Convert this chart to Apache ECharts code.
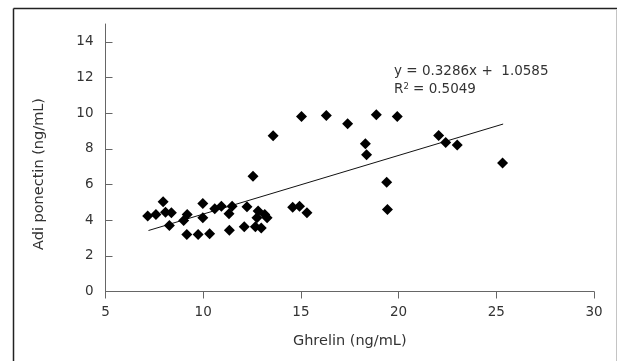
<!DOCTYPE html>
<html>
<head>
<meta charset="utf-8">
<script src="https://cdn.jsdelivr.net/npm/echarts@6/dist/echarts.min.js"></script>
<style>
  html, body { margin: 0; padding: 0; background: #fff; }
  #chart { width: 618px; height: 361px; }
</style>
</head>
<body>
<div id="chart"></div>
<script>
// ghrelin (x) vs adiponectin (y)
const ghrelin = [
  7.16, 7.58, 7.95, 8.07, 8.37, 8.27, 9.0, 9.18, 9.16, 9.74, 9.98, 9.98,
  10.33, 10.59, 10.93, 11.32, 11.48, 11.34, 12.1, 12.24, 12.55, 12.67, 12.81,
  12.75, 12.97, 13.15, 13.27, 13.58, 14.58, 14.93, 15.31, 15.03, 16.3, 17.39,
  18.3, 18.36, 18.86, 19.39, 19.43, 19.93, 22.05, 22.41, 23.0, 25.32
]
const adiponectin = [
  4.23, 4.32, 5.03, 4.45, 4.41, 3.7, 3.98, 4.32, 3.2, 3.2, 4.93, 4.13,
  3.24, 4.64, 4.78, 4.36, 4.78, 3.43, 3.63, 4.75, 6.46, 3.63, 4.51,
  4.13, 3.56, 4.32, 4.13, 8.73, 4.73, 4.78, 4.41, 9.81, 9.87, 9.4,
  8.29, 7.67, 9.91, 6.13, 4.6, 9.81, 8.75, 8.36, 8.21, 7.21
]
// trend line end points
const trendX = [7.2, 25.35]
const trendY = [3.42, 9.39]
const xTicks = [5, 10, 15, 20, 25, 30]
const yTicks = [0, 2, 4, 6, 8, 10, 12, 14]
const equationText = 'y = 0.3286x +  1.0585'
const r2Text = '0.5049'

const font = 'DejaVu Sans'
const chart = echarts.init(document.getElementById('chart'))

const option = {
  animation: false,
  backgroundColor: '#fff',
  grid: { left: 105.5, right: 24, top: 24, bottom: 69.5 },
  xAxis: {
    type: 'value',
    min: xTicks[0],
    max: xTicks[xTicks.length - 1],
    interval: 5,
    name: 'Ghrelin (ng/mL)',
    nameLocation: 'middle',
    nameGap: 42,
    nameTextStyle: { fontFamily: font, fontSize: 14.5, color: '#333' },
    axisLine: { lineStyle: { color: '#666', width: 1 } },
    axisTick: { inside: false, length: 7, lineStyle: { color: '#666' } },
    axisLabel: { margin: 14, fontFamily: font, fontSize: 13.5, color: '#333' },
    splitLine: { show: false },
  },
  yAxis: {
    type: 'value',
    min: 0,
    max: 15,
    axisLine: { show: true, lineStyle: { color: '#666', width: 1 } },
    axisTick: { show: true, inside: true, length: 7, customValues: yTicks, lineStyle: { color: '#666' } },
    axisLabel: { margin: 12, fontFamily: font, fontSize: 13.5, color: '#333', customValues: yTicks },
    splitLine: { show: false },
  },
  graphic: [
    // outer frame
    { type: 'line', shape: { x1: 13.5, y1: 8.5, x2: 617, y2: 8.5 }, style: { stroke: '#222', lineWidth: 1.5 } },
    { type: 'line', shape: { x1: 13.5, y1: 8.5, x2: 13.5, y2: 361 }, style: { stroke: '#222', lineWidth: 1.5 } },
    { type: 'line', shape: { x1: 616.5, y1: 9.5, x2: 616.5, y2: 361 }, style: { stroke: '#c4c4c4', lineWidth: 1 } },
    {
      type: 'text',
      x: 39.5,
      y: 174,
      rotation: Math.PI / 2,
      style: {
        text: 'Adi ponectin (ng/mL)',
        font: '14.5px "' + font + '"',
        fill: '#333',
        align: 'center',
        verticalAlign: 'middle',
      },
    },
    {
      type: 'text',
      left: 394,
      top: 64,
      style: { text: equationText, font: '13.5px "' + font + '"', fill: '#333' },
    },
    {
      type: 'text',
      left: 394,
      top: 82,
      style: {
        text: 'R{sup|2} = ' + r2Text,
        font: '13.5px "' + font + '"',
        fill: '#333',
        rich: {
          sup: { fontSize: 8.5, fontFamily: font, fill: '#333', verticalAlign: 'top', padding: [0, 0, 6, 0] },
        },
      },
    },
  ],
  series: [
    {
      type: 'line',
      data: trendX.map((x, i) => [x, trendY[i]]),
      symbol: 'none',
      lineStyle: { color: '#111', width: 1 },
      silent: true,
      z: 1,
    },
    {
      type: 'scatter',
      data: ghrelin.map((x, i) => [x, adiponectin[i]]),
      symbol: 'diamond',
      symbolSize: [11, 11],
      itemStyle: { color: '#000', opacity: 1 },
      z: 2,
    },
  ],
}

chart.setOption(option)
</script>
</body>
</html>
